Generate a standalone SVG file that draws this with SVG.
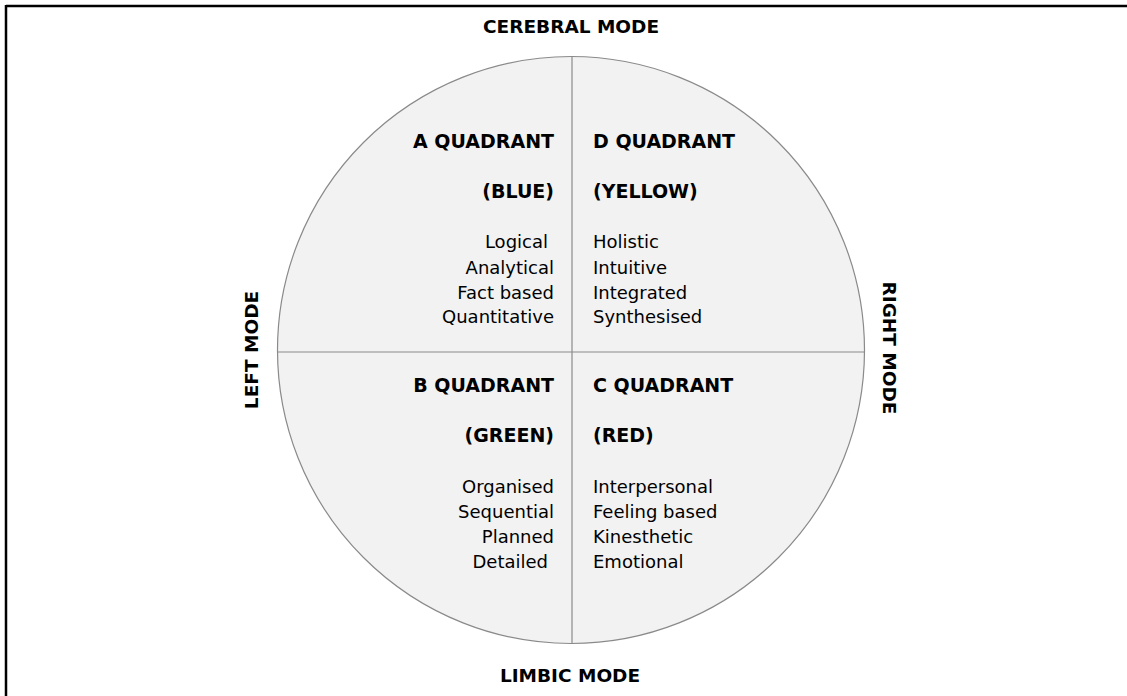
<svg xmlns="http://www.w3.org/2000/svg" width="1127" height="696" viewBox="0 0 1127 696">
<style>
.mode{font-family:"DejaVu Sans",Verdana,sans-serif;font-weight:bold;font-size:18.5px;fill:#000;text-anchor:middle}
.head{font-family:"DejaVu Sans",Verdana,sans-serif;font-weight:bold;font-size:19px;fill:#000}
.body{font-family:"DejaVu Sans",Verdana,sans-serif;font-size:18px;fill:#000}
.end{text-anchor:end}
.div{stroke:#8a8a8a;stroke-width:1.2;fill:none}
</style>
<rect x="0" y="0" width="1127" height="696" fill="#fff"/>
<g id="frame">
<line x1="6" y1="6" x2="1127" y2="6" stroke="#000" stroke-width="2.5"/>
<line x1="6" y1="5" x2="6" y2="696" stroke="#000" stroke-width="2.5"/>
</g>
<g id="circle">
<circle cx="571" cy="350" r="293.5" fill="#f2f2f2" stroke="#8a8a8a" stroke-width="1.2"/>
</g>
<g id="connectors">
<line class="div" x1="572" y1="56.5" x2="572" y2="643.5"/>
<line class="div" x1="277.5" y1="352" x2="864.5" y2="352"/>
</g>
<g id="modes">
<text class="mode" x="571" y="33">CEREBRAL MODE</text>
<text class="mode" x="570" y="682">LIMBIC MODE</text>
<text class="mode" transform="translate(258,350) rotate(-90)">LEFT MODE</text>
<text class="mode" transform="translate(883,348) rotate(90)">RIGHT MODE</text>
</g>
<g id="quadA">
<text class="head end" x="554" y="148">A QUADRANT</text>
<text class="head end" x="554" y="198">(BLUE)</text>
<text class="body end" x="548" y="248">Logical</text>
<text class="body end" x="554" y="274">Analytical</text>
<text class="body end" x="554" y="299">Fact based</text>
<text class="body end" x="554" y="323">Quantitative</text>
</g>
<g id="quadD">
<text class="head" x="593" y="148">D QUADRANT</text>
<text class="head" x="593" y="198">(YELLOW)</text>
<text class="body" x="593" y="248">Holistic</text>
<text class="body" x="593" y="274">Intuitive</text>
<text class="body" x="593" y="299">Integrated</text>
<text class="body" x="593" y="323">Synthesised</text>
</g>
<g id="quadB">
<text class="head end" x="554" y="392">B QUADRANT</text>
<text class="head end" x="554" y="442">(GREEN)</text>
<text class="body end" x="554" y="493">Organised</text>
<text class="body end" x="554" y="518">Sequential</text>
<text class="body end" x="554" y="543">Planned</text>
<text class="body end" x="548" y="568">Detailed</text>
</g>
<g id="quadC">
<text class="head" x="593" y="392">C QUADRANT</text>
<text class="head" x="593" y="442">(RED)</text>
<text class="body" x="593" y="493">Interpersonal</text>
<text class="body" x="593" y="518">Feeling based</text>
<text class="body" x="593" y="543">Kinesthetic</text>
<text class="body" x="593" y="568">Emotional</text>
</g>
</svg>
